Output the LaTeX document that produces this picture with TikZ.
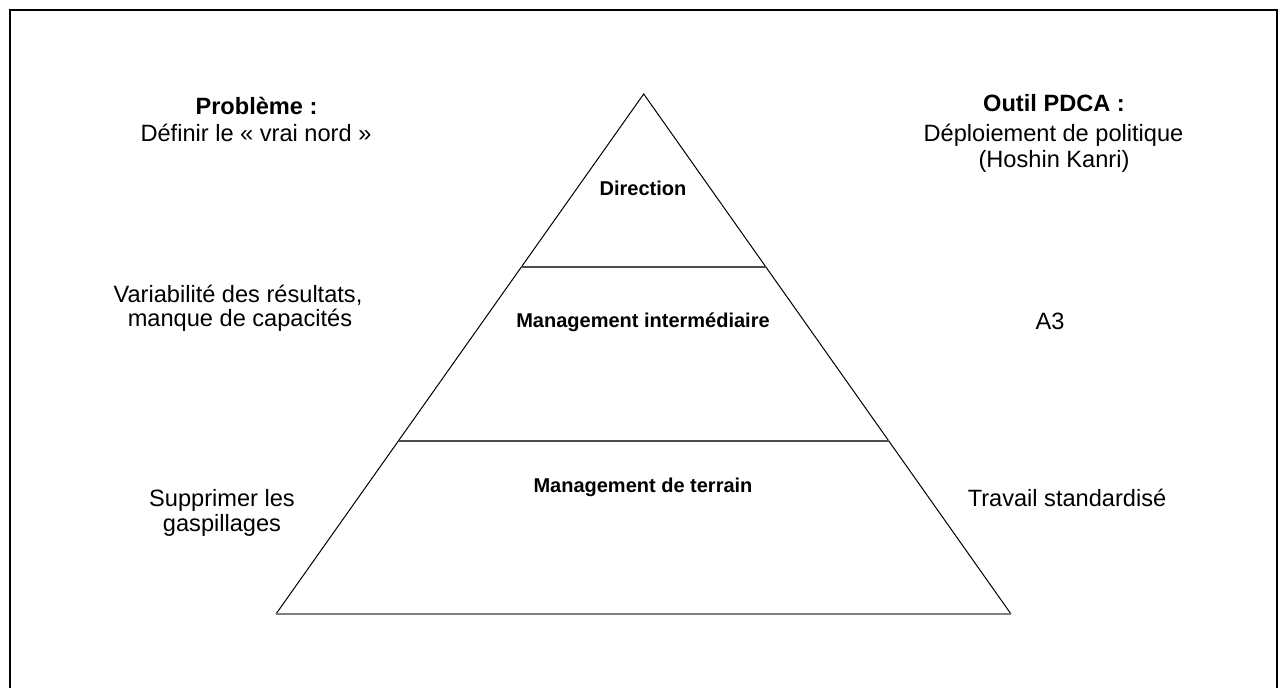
\documentclass[tikz,border=0pt]{standalone}
\usepackage{fontspec}
\setmainfont{Liberation Sans}
\usetikzlibrary{calc}
\begin{document}
\begin{tikzpicture}[x=1pt,y=-1pt,
  every node/.style={inner sep=0pt, anchor=base},
  txt/.style={font=\fontsize{23.6}{27}\selectfont},
  ttl/.style={font=\bfseries\fontsize{23.6}{27}\selectfont},
  lbl/.style={font=\bfseries\fontsize{20}{23}\selectfont},
  side/.style={line width=1pt, black},
  level/.style={line width=1.8pt, black!70},
  baseline/.style={line width=1.5pt, black!50},
  frameline/.style={line width=2pt, black}]
\useasboundingbox (0,0) rectangle (1278,688);
\draw[frameline] (9.5,700) -- (9.5,10) -- (1276.5,10) -- (1276.5,700);
% pyramid
\coordinate (A) at (643.7,94);
\coordinate (BL) at (276,614);
\coordinate (BR) at (1011,614);
\coordinate (L1a) at ($(A)!0.3333!(BL)$);
\coordinate (L1b) at ($(A)!0.3333!(BR)$);
\coordinate (L2a) at ($(A)!0.6667!(BL)$);
\coordinate (L2b) at ($(A)!0.6667!(BR)$);
\draw[side] (BR) -- (A) -- (BL);
\draw[baseline] (BL) -- (BR);
\draw[level] (L1a) -- (L1b);
\draw[level] (L2a) -- (L2b);
% level labels
\node[lbl] (dir) at (643,195) {Direction};
\node[lbl] (mi) at (643,327) {Management intermédiaire};
\node[lbl] (mt) at (643,492) {Management de terrain};
% left column
\node[ttl] (pb) at (256.5,114) {Problème :};
\node[txt] (pb2) at (256,141) {Définir le «~vrai nord~»};
\node[txt] (v1) at (238,302.5) {Variabilité des résultats,};
\node[txt] (v2) at (240,326.7) {manque de capacités};
\node[txt] (s1) at (222,506.7) {Supprimer les};
\node[txt] (s2) at (222,531.7) {gaspillages};
% right column
\node[ttl] (pd) at (1054,111) {Outil PDCA :};
\node[txt] (pd2) at (1053.5,141.5) {Déploiement de politique};
\node[txt] (pd3) at (1054,167) {(Hoshin Kanri)};
\node[txt] (a3) at (1050,329) {A3};
\node[txt] (ts) at (1067,506) {Travail standardisé};
\end{tikzpicture}
\end{document}
